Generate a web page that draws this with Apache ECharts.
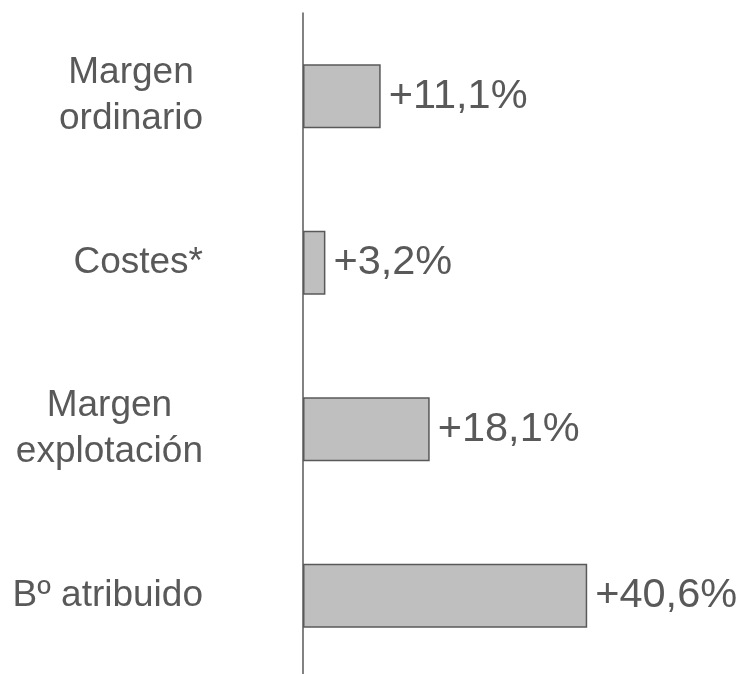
<!DOCTYPE html>
<html>
<head>
<meta charset="utf-8">
<script src="https://cdn.jsdelivr.net/npm/echarts@6/dist/echarts.min.js"></script>
<style>
  html, body { margin: 0; padding: 0; background: #fff; }
  #main { width: 746px; height: 674px; }
</style>
</head>
<body>
<div id="main"></div>
<script>
// categorias de arriba a abajo
const categories = ['Margen\nordinario', 'Costes*', 'Margen\nexplotación', 'Bº atribuido'];
const values = [11.1, 3.2, 18.1, 40.6];
const valueLabels = ['+11,1%', '+3,2%', '+18,1%', '+40,6%'];

const chart = echarts.init(document.getElementById('main'));

const option = {
    backgroundColor: '#ffffff',
    animation: false,
    grid: {
        left: 303,
        top: 13,
        width: 350,
        height: 666,
        outerBoundsMode: 'none'
    },
    xAxis: {
        type: 'value',
        min: 0,
        max: 50,
        show: false
    },
    yAxis: {
        type: 'category',
        inverse: true,
        data: categories,
        axisLine: { show: true, lineStyle: { color: '#595959', width: 1.5 } },
        axisTick: { show: false },
        axisLabel: {
            margin: 100,
            align: 'right',
            // cada linea centrada dentro del bloque
            formatter: v => v.split('\n').map(s => '{c|' + s + '}').join('\n'),
            rich: {
                c: {
                    align: 'center',
                    fontFamily: 'Liberation Sans, Arial, sans-serif',
                    fontSize: 37,
                    lineHeight: 46,
                    color: '#595959'
                }
            }
        }
    },
    series: [
        {
            type: 'bar',
            data: values,
            barWidth: 64,
            itemStyle: {
                color: '#bfbfbf',
                borderColor: '#595959',
                borderWidth: 1.5
            },
            label: {
                show: true,
                position: 'right',
                distance: 8,
                formatter: p => valueLabels[p.dataIndex],
                fontFamily: 'Liberation Sans, Arial, sans-serif',
                fontSize: 41.5,
                color: '#595959'
            }
        }
    ]
};

chart.setOption(option);
</script>
</body>
</html>
